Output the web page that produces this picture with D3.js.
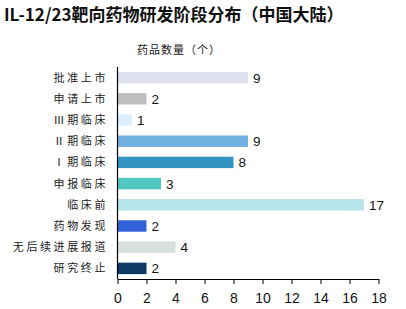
<!DOCTYPE html>
<html>
<head>
<meta charset="utf-8">
<script src="https://cdn.jsdelivr.net/npm/d3@7"></script>
<style>
  body { margin: 0; background: #fff; }
  svg { display: block; }
</style>
</head>
<body>
<svg id="chart" width="406" height="309"></svg>
<script>
// data
const stages = ["批准上市", "申请上市", "Ⅲ期临床", "Ⅱ期临床", "Ⅰ期临床", "申报临床", "临床前", "药物发现", "无后续进展报道", "研究终止"];
const counts = [9, 2, 1, 9, 8, 3, 17, 2, 4, 2];
const barColors = ["#dde0f0", "#bfbfbf", "#dcf0fb", "#70b1e2", "#3494c1", "#4fc8c0", "#b7e5ea", "#3262d8", "#d7e0dc", "#0f3a66"];
const xTicks = [0, 2, 4, 6, 8, 10, 12, 14, 16, 18];

const svg = d3.select("#chart");
const plotLeft = 117.5, plotRight = 378.5, plotTop = 67, plotBottom = 279;

// title
svg.append("text")
  .attr("x", 4).attr("y", 21)
  .attr("font-family", "'Noto Sans CJK SC', sans-serif")
  .attr("font-size", 17)
  .attr("font-weight", "bold")
  .attr("fill", "#111")
  .text("IL-12/23靶向药物研发阶段分布（中国大陆）");

svg.append("text")
  .attr("x", 137).attr("y", 54)
  .attr("font-family", "'Noto Sans CJK SC', sans-serif")
  .attr("font-size", 11)
  .attr("letter-spacing", 1)
  .attr("fill", "#222")
  .text("药品数量（个）");

const x = d3.scaleLinear().domain([0, 18]).range([plotLeft, plotRight]);
const y = d3.scaleBand().domain(stages).range([plotTop, plotBottom]).paddingInner(0.46).paddingOuter(0.23);

// bars
svg.append("g").selectAll("rect")
  .data(stages)
  .join("rect")
  .attr("x", x(0))
  .attr("y", d => y(d))
  .attr("width", (d, i) => x(counts[i]) - x(0))
  .attr("height", y.bandwidth())
  .attr("fill", (d, i) => barColors[i]);

// value labels
svg.append("g").selectAll("text")
  .data(stages)
  .join("text")
  .attr("x", (d, i) => x(counts[i]) + 5)
  .attr("y", d => y(d) + y.bandwidth() / 2 + 5)
  .attr("font-family", "'Liberation Sans', Arial, sans-serif")
  .attr("font-size", 13.5)
  .attr("fill", "#111")
  .text((d, i) => counts[i]);

// y axis: just the line and category labels
svg.append("line")
  .attr("x1", plotLeft).attr("x2", plotLeft)
  .attr("y1", plotTop).attr("y2", plotBottom)
  .attr("stroke", "#000").attr("stroke-width", 1.2);

svg.append("g").selectAll("text")
  .data(stages)
  .join("text")
  .attr("x", 108)
  .attr("y", d => y(d) + y.bandwidth() / 2 + 4)
  .attr("text-anchor", "end")
  .attr("font-family", "'Noto Sans CJK SC', sans-serif")
  .attr("font-size", 11)
  .attr("letter-spacing", 2.6)
  .attr("fill", "#222")
  .text(d => d);

// x axis
const xAxis = svg.append("g")
  .attr("transform", `translate(0,${plotBottom})`)
  .call(d3.axisBottom(x).tickValues(xTicks).tickSize(5).tickSizeOuter(0));
xAxis.select(".domain").attr("stroke", "#000").attr("stroke-width", 1.2);
xAxis.selectAll(".tick line").attr("stroke", "#000");
xAxis.selectAll(".tick text")
  .attr("font-family", "'Liberation Sans', Arial, sans-serif")
  .attr("font-size", 14)
  .attr("fill", "#111")
  .attr("dy", "1.15em");
</script>
</body>
</html>
